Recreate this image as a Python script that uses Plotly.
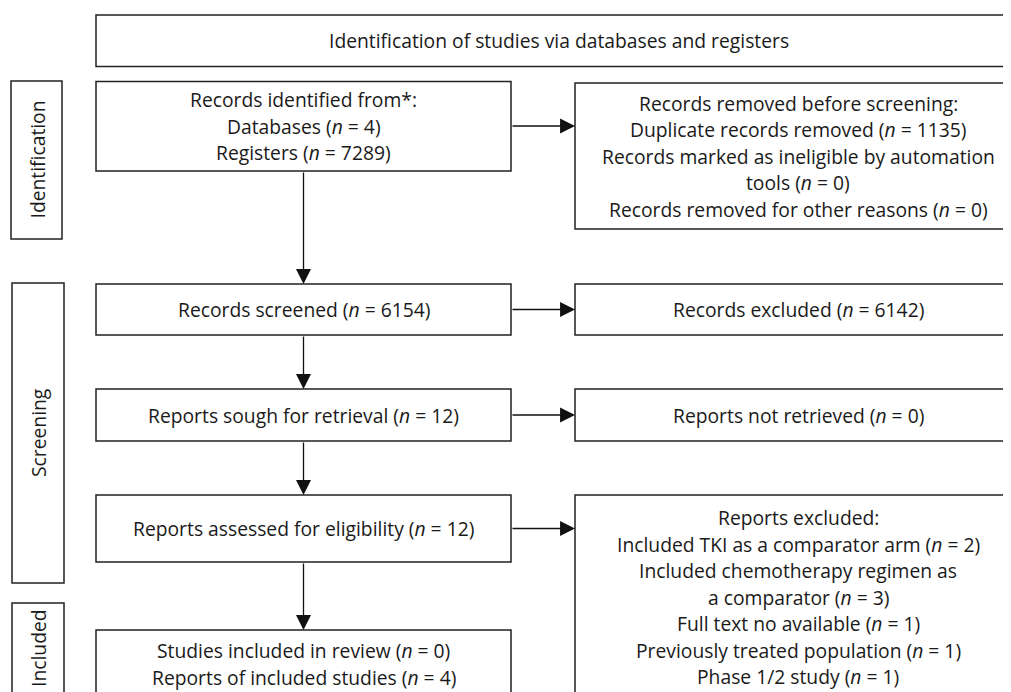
import plotly.graph_objects as go

# ---- data ----
header_text = "Identification of studies via databases and registers"
stage_labels = ["Identification", "Screening", "Included"]

n_databases = 4
n_registers = 7289
n_duplicates = 1135
n_automation = 0
n_other_removed = 0
n_screened = 6154
n_excluded = 6142
n_sought = 12
n_not_retrieved = 0
n_assessed = 12
excl_reasons = ["Included TKI as a comparator arm", "Included chemotherapy regimen as|a comparator",
                "Full text no available", "Previously treated population", "Phase 1/2 study"]
excl_counts = [2, 3, 1, 1, 1]
n_studies_included = 0
n_reports_included = 4


def n(v):
    return f"(<i>n</i> = {v})"


left_lines = [
    ["Records identified from*:", f"Databases {n(n_databases)}", f"Registers {n(n_registers)}"],
    [f"Records screened {n(n_screened)}"],
    [f"Reports sough for retrieval {n(n_sought)}"],
    [f"Reports assessed for eligibility {n(n_assessed)}"],
    [f"Studies included in review {n(n_studies_included)}", f"Reports of included studies {n(n_reports_included)}"],
]
excl_lines = ["Reports excluded:"]
for r, c in zip(excl_reasons, excl_counts):
    parts = r.split("|")
    parts[-1] = parts[-1] + f" {n(c)}"
    excl_lines += parts
right_lines = [
    ["Records removed before screening:", f"Duplicate records removed {n(n_duplicates)}",
     "Records marked as ineligible by automation", f"tools {n(n_automation)}",
     f"Records removed for other reasons {n(n_other_removed)}"],
    [f"Records excluded {n(n_excluded)}"],
    [f"Reports not retrieved {n(n_not_retrieved)}"],
    excl_lines,
]

# ---- layout geometry (pixels of the page) ----
W, H = 1011, 692
OFF = 8  # page body margin
LX0, LX1 = 96, 511
RX0, RX1 = 575, 1021
left_y = [(81.5, 171), (284, 335), (389, 441), (495, 562), (630, 698)]
right_y = [(83, 229), (284, 335), (389, 441), (495, 699)]
arrow_y = [126, 309.5, 415, 528.5]
side_boxes = [(11, 62, 81, 239), (12, 64, 283, 583), (12, 64, 603, 720)]
header_box = (96, 1021, 15, 66.5)
LINE_H = 26.5
FONT = dict(family="Open Sans", size=19.3, color="#1a1a1a", weight=400)
LINE_COL = "#222222"

fig = go.Figure()
shapes = []
annotations = []


def rect(x0, x1, y0, y1):
    shapes.append(dict(type="rect", xref="x", yref="y", x0=x0, x1=x1, y0=y0, y1=y1,
                       line=dict(color=LINE_COL, width=1.5), fillcolor="white", layer="below"))


def text_block(lines, xc, yc):
    k = len(lines)
    for i, t in enumerate(lines):
        annotations.append(dict(x=xc, y=yc + (i - (k - 1) / 2) * LINE_H, xref="x", yref="y",
                                text=t, showarrow=False, font=FONT, xanchor="center", yanchor="middle"))


rect(*header_box)
text_block([header_text], (header_box[0] + header_box[1]) / 2, (header_box[2] + header_box[3]) / 2)

for (y0, y1), lines in zip(left_y, left_lines):
    rect(LX0, LX1, y0, y1)
    text_block(lines, (LX0 + LX1) / 2, (y0 + y1) / 2)

for (y0, y1), lines in zip(right_y, right_lines):
    rect(RX0, RX1, y0, y1)
    text_block(lines, (RX0 + RX1) / 2, (y0 + y1) / 2)

for (x0, x1, y0, y1), lab in zip(side_boxes, stage_labels):
    rect(x0, x1, y0, y1)
    yc = (y0 + y1) / 2 if lab != "Included" else 648
    annotations.append(dict(x=(x0 + x1) / 2, y=yc, xref="x", yref="y", text=lab, textangle=-90,
                            showarrow=False, font=FONT, xanchor="center", yanchor="middle"))

ARROW = dict(text="", showarrow=True, arrowhead=2, arrowsize=2.3, arrowwidth=1.3,
             arrowcolor="#111111", standoff=0, xref="x", yref="y", axref="x", ayref="y")
# horizontal arrows
for y in arrow_y:
    annotations.append(dict(x=RX0, y=y, ax=LX1, ay=y, **ARROW))
# vertical arrows
xc = (LX0 + LX1) / 2
for i in range(len(left_y) - 1):
    annotations.append(dict(x=xc, y=left_y[i + 1][0], ax=xc, ay=left_y[i][1], **ARROW))

fig.update_layout(
    width=W, height=H, margin=dict(l=0, r=0, t=0, b=0),
    paper_bgcolor="white", plot_bgcolor="white",
    xaxis=dict(range=[OFF, W + OFF], visible=False, fixedrange=True),
    yaxis=dict(range=[H + OFF, OFF], visible=False, fixedrange=True),
    shapes=shapes, annotations=annotations, showlegend=False,
)
fig.write_html("out.html")
